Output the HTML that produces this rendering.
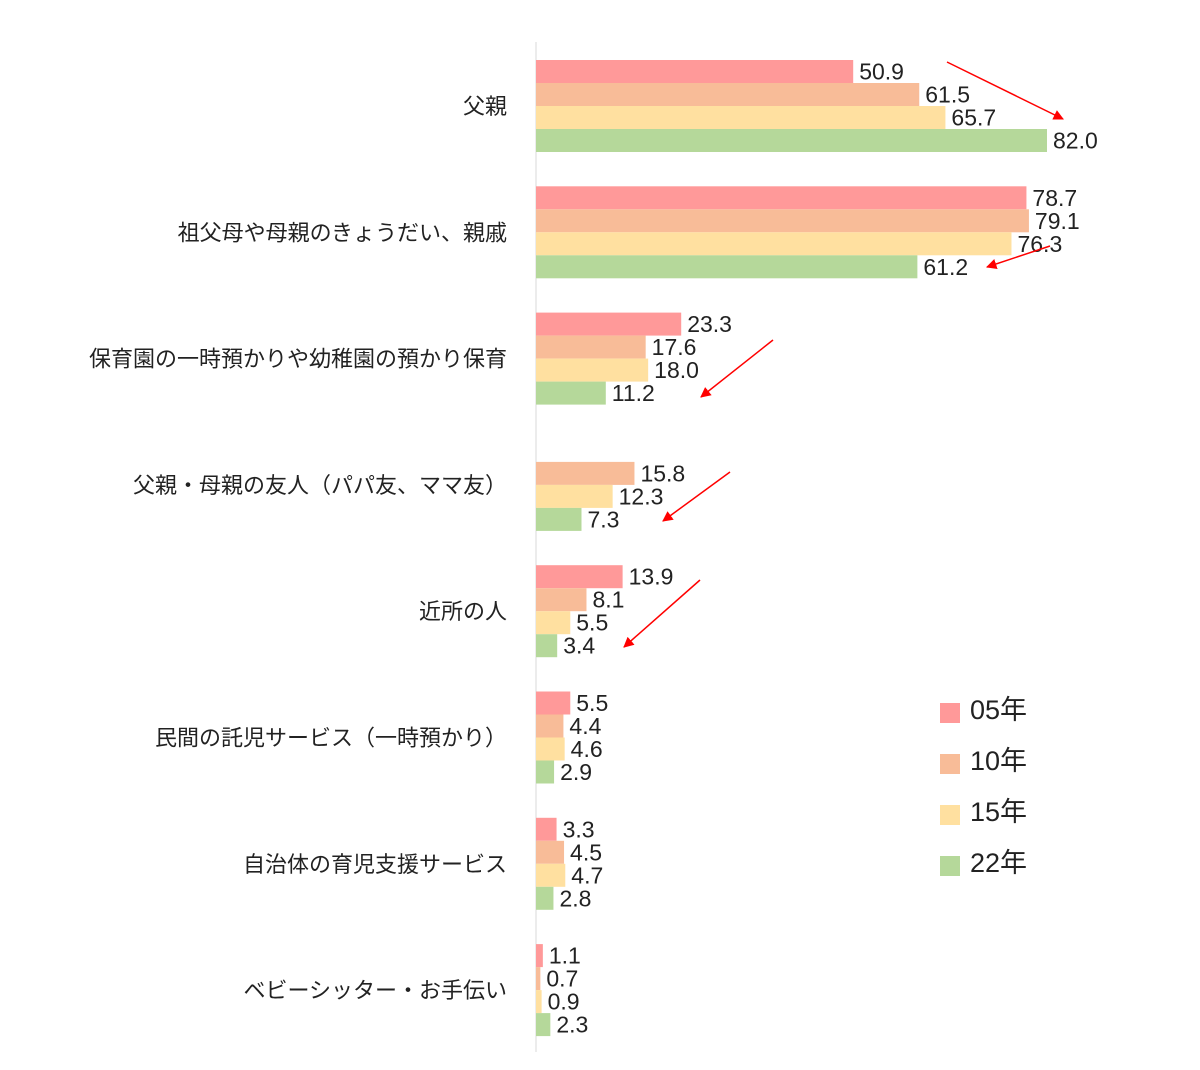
<!DOCTYPE html>
<html><head><meta charset="utf-8"><style>
body{margin:0;background:#fff;}
svg{display:block;font-family:"Liberation Sans","Noto Sans CJK JP",sans-serif;}
</style></head><body>
<svg id="c" width="1200" height="1070">
<defs><marker id="ah" viewBox="0 0 10 10" refX="9" refY="5" markerWidth="7" markerHeight="7" orient="auto"><path d="M0,0L10,5L0,10z" fill="#f00"/></marker></defs>
<line x1="536" y1="42" x2="536" y2="1052" stroke="#d9d9d9" stroke-width="1"/>
<g id="bars"></g>
<g stroke="#f00" stroke-width="1.5" marker-end="url(#ah)">
<line x1="947" y1="62" x2="1063" y2="119"/>
<line x1="1050" y1="246" x2="987" y2="267"/>
<line x1="773" y1="340" x2="701" y2="397"/>
<line x1="730" y1="472" x2="663" y2="521"/>
<line x1="700" y1="580" x2="624" y2="647"/>
</g>
<g id="legend"></g>
</svg>
<script>
const categories=["父親","祖父母や母親のきょうだい、親戚","保育園の一時預かりや幼稚園の預かり保育","父親・母親の友人（パパ友、ママ友）","近所の人","民間の託児サービス（一時預かり）","自治体の育児支援サービス","ベビーシッター・お手伝い"];
const series=["05年","10年","15年","22年"];
const v05=[50.9,78.7,23.3,null,13.9,5.5,3.3,1.1];
const v10=[61.5,79.1,17.6,15.8,8.1,4.4,4.5,0.7];
const v15=[65.7,76.3,18.0,12.3,5.5,4.6,4.7,0.9];
const v22=[82.0,61.2,11.2,7.3,3.4,2.9,2.8,2.3];
const colors=["#FF9999","#F8BC98","#FFE0A0","#B5D89A"];
const all=[v05,v10,v15,v22];
const NS="http://www.w3.org/2000/svg";
const x0=536,pxPer=511/82;
const x=v=>x0+v*pxPer;
const gTop=i=>60+i*126.3;
const bh=23;
const bars=document.getElementById('bars');
function mk(t,a,p){const e=document.createElementNS(NS,t);for(const k in a)e.setAttribute(k,a[k]);p.appendChild(e);return e;}
categories.forEach((c,i)=>{
 const t=mk('text',{x:507,y:gTop(i)+46+8,'text-anchor':'end','font-size':22,fill:'#222'},bars);
 t.textContent=c;
 
 
 all.forEach((arr,s)=>{
  const v=arr[i]; if(v==null)return;
  const y=gTop(i)+s*bh;
  const r=mk('rect',{x:x0,y:y,width:v*pxPer,height:bh,fill:colors[s]},bars);
  
  
  const lbl=v.toFixed(1);
  const w=lbl.length*12.5+6;
  const bg=mk('rect',{x:x(v)+2,y:y+2,width:w,height:bh-3,fill:'#fff'},bars);
  
  
  const tv=mk('text',{x:x(v)+6,y:y+bh/2+8,'font-size':23,fill:'#222'},bars);
  tv.textContent=lbl;
  
  
 });
});
const lg=document.getElementById('legend');
series.forEach((s,k)=>{
 const y=703+k*51;
 const r=mk('rect',{x:940,y:y,width:20,height:20,fill:colors[k]},lg);
 
 
 const t=mk('text',{x:970,y:y+16,'font-size':27,fill:'#222'},lg);
 t.textContent=s;
 
 
});
</script>
</body></html>
